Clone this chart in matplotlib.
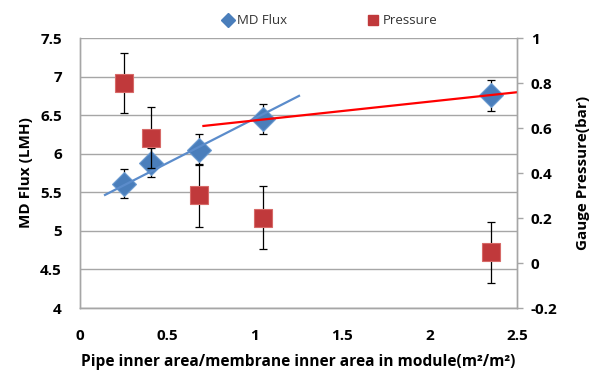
import numpy as np
import matplotlib
matplotlib.use('Agg')
from matplotlib import pyplot as plt
from matplotlib.lines import Line2D

plt.rcParams.update({
    "font.family": ["Open Sans", "DejaVu Sans"],
    "font.size": 11,
})

# data
area_ratio = [0.253, 0.404, 0.683, 1.047, 2.35]
md_flux = [5.61, 5.885, 6.05, 6.45, 6.76]
md_flux_err = [0.19, 0.19, 0.2, 0.2, 0.2]
pressure = [0.80, 0.557, 0.302, 0.201, 0.048]
pressure_err = [0.135, 0.135, 0.14, 0.14, 0.135]

# trend lines (end points, flux units)
blue_trend_x = [0.143, 1.253]
blue_trend_y = [5.466, 6.75]
red_trend_x = [0.706, 2.5]
red_trend_y = [6.36, 6.797]

flux_ticks = np.arange(4, 7.51, 0.5)
flux_labels = ["4", "4.5", "5", "5.5", "6", "6.5", "7", "7.5"]
press_ticks = np.arange(-0.2, 1.01, 0.2)
press_labels = ["-0.2", "0", "0.2", "0.4", "0.6", "0.8", "1"]
x_ticks = [0, 0.5, 1, 1.5, 2, 2.5]
x_labels = ["0", "0.5", "1", "1.5", "2", "2.5"]

blue = "#4A7EBB"
red = "#C0393B"
grid_col = "#A6A6A6"

#%% plot

fig = plt.figure(figsize=(5.99, 3.79), dpi=100)
ax = fig.add_axes([0.1336, 0.1873, 0.7294, 0.7124])
ax2 = ax.twinx()

ax.errorbar(area_ratio, md_flux, yerr=md_flux_err, fmt="none", ecolor="k",
            elinewidth=0.9, capsize=3, capthick=0.9, zorder=2)
ax.plot(area_ratio, md_flux, linestyle="none", marker="D", markersize=12,
        markerfacecolor=blue, markeredgecolor="#6A9AD0", markeredgewidth=0.8, zorder=3)
ax.plot(blue_trend_x, blue_trend_y, color="#5B8CCB", linewidth=1.6, zorder=4)
ax.plot(red_trend_x, red_trend_y, color="#FF0000", linewidth=1.6, zorder=4)

ax2.errorbar(area_ratio, pressure, yerr=pressure_err, fmt="none", ecolor="k",
             elinewidth=0.9, capsize=3, capthick=0.9, zorder=2)
ax2.plot(area_ratio, pressure, linestyle="none", marker="s", markersize=13.5,
         markerfacecolor=red, markeredgecolor="#D76A68", markeredgewidth=0.8, zorder=3)

ax.set_xlim(0, 2.5)
ax.set_ylim(4, 7.5)
ax2.set_ylim(-0.2, 1.0)

ax.set_xticks(x_ticks)
ax.set_xticklabels(x_labels, fontweight="bold")
ax.set_yticks(flux_ticks)
ax.set_yticklabels(flux_labels, fontweight="bold")
ax2.set_yticks(press_ticks)
ax2.set_yticklabels(press_labels, fontweight="bold")

ax.tick_params(axis="x", length=0, pad=15, labelsize=11)
ax.tick_params(axis="y", length=0, pad=13, labelsize=11)
ax2.tick_params(axis="y", length=4, width=1, color=grid_col, pad=6, labelsize=11)

ax.grid(axis="y", color=grid_col, linewidth=1)
ax.set_axisbelow(True)
for a in (ax, ax2):
    a.spines["top"].set_visible(False)
    for s in ("left", "bottom", "right"):
        a.spines[s].set_color(grid_col)
        a.spines[s].set_linewidth(1)

ax.set_xlabel("Pipe inner area/membrane inner area in module(m²/m²)",
              fontweight="bold", fontsize=11.2, labelpad=8)
ax.set_ylabel("MD Flux (LMH)", fontweight="bold", fontsize=11, labelpad=5)
ax2.set_ylabel("Gauge Pressure(bar)", fontweight="bold", fontsize=11, labelpad=13)

handles = [
    Line2D([], [], linestyle="none", marker="D", markersize=7,
           markerfacecolor=blue, markeredgecolor=blue),
    Line2D([], [], linestyle="none", marker="s", markersize=6.5,
           markerfacecolor=red, markeredgecolor=red),
]
fig.legend(handles, ["MD Flux", "Pressure"], loc="center", bbox_to_anchor=(0.55, 0.945),
           ncol=2, frameon=False, fontsize=9.5, handletextpad=0.2, columnspacing=6,
           handlelength=1, labelcolor="#333333")

plt.savefig("out.png", dpi=100)
